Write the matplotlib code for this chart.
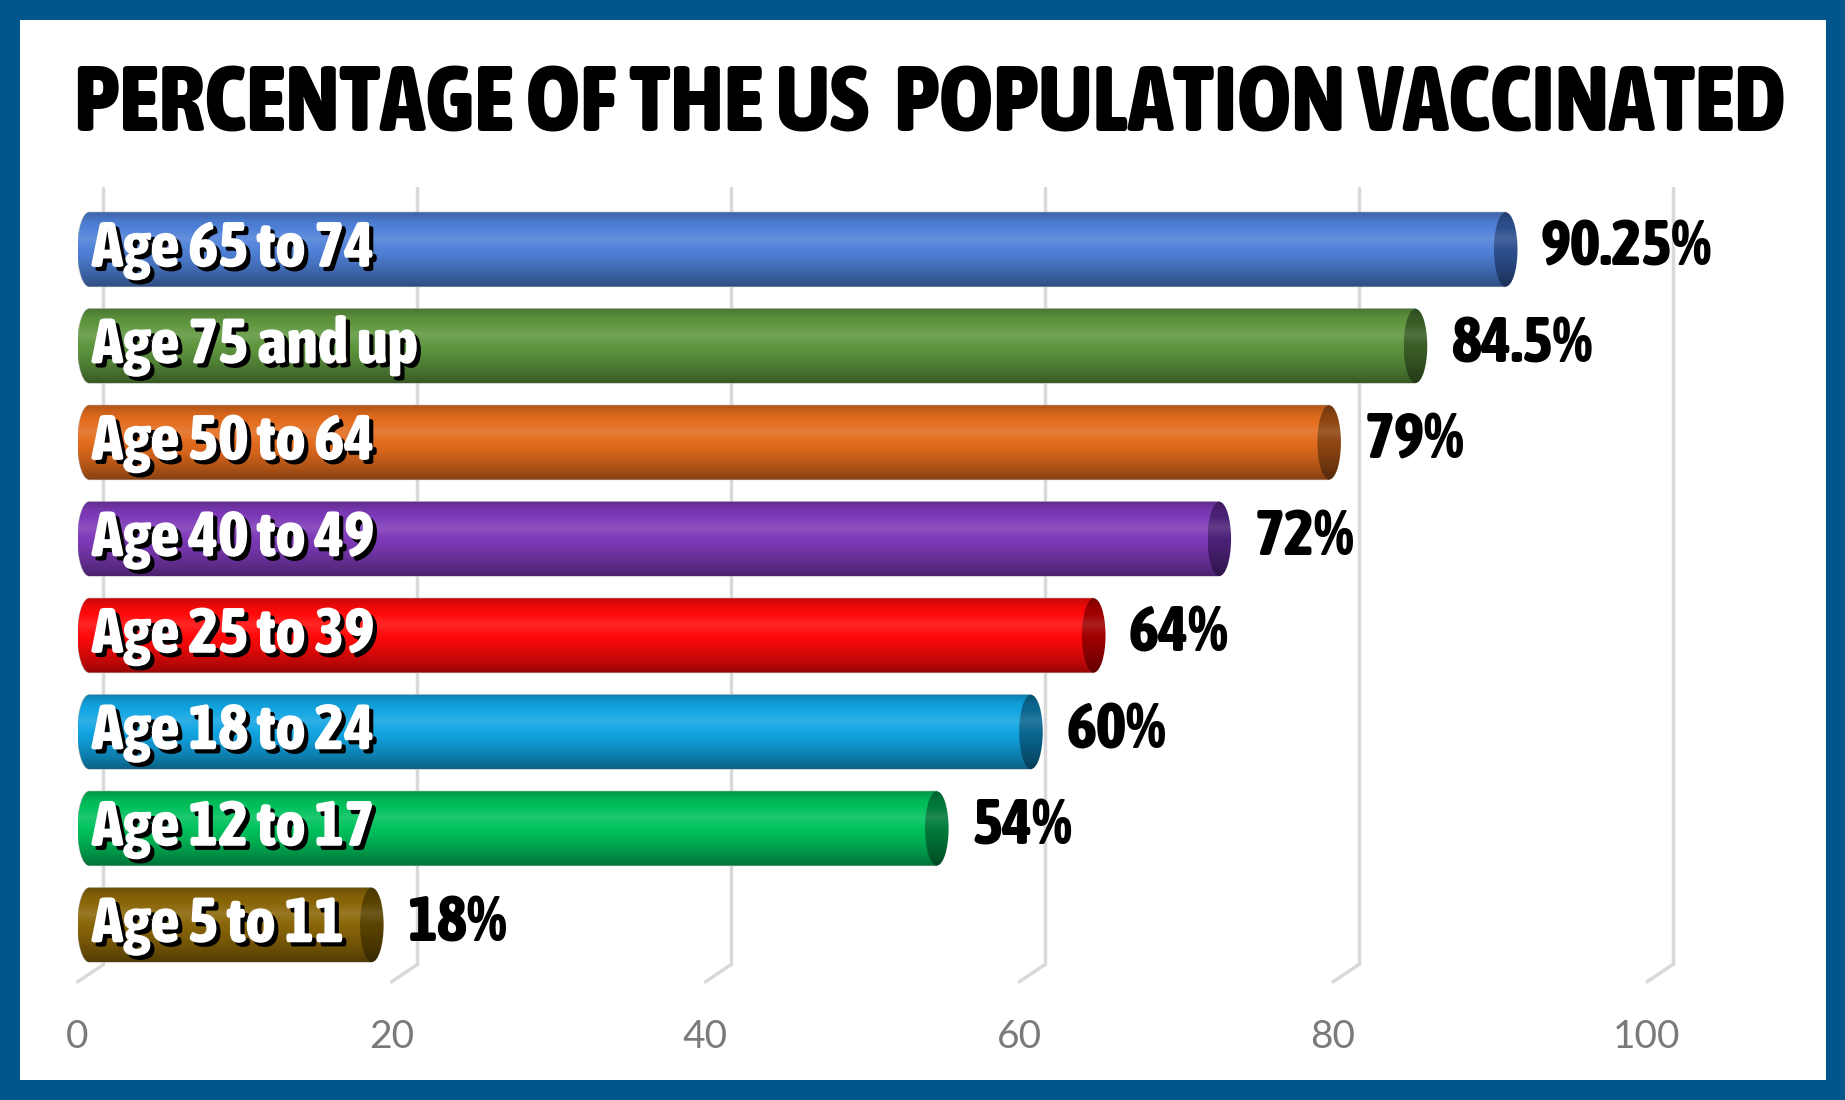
import os
import matplotlib
matplotlib.use('Agg')
import matplotlib.pyplot as plt
import matplotlib.patheffects as pe
from matplotlib import font_manager as fm
from matplotlib.patches import Polygon, Ellipse, Rectangle
import numpy as np

# data
groups = ['Age 65 to 74', 'Age 75 and up', 'Age 50 to 64', 'Age 40 to 49',
          'Age 25 to 39', 'Age 18 to 24', 'Age 12 to 17', 'Age 5 to 11']
values = [90.25, 84.5, 79, 72, 64, 60, 54, 18]
value_labels = ['90.25%', '84.5%', '79%', '72%', '64%', '60%', '54%', '18%']
bar_colors = ['#4F81D8', '#5F973F', '#E36C1D', '#7E3AB8',
              '#FF0A0A', '#12A5E2', '#00C15C', '#8A6608']
cap_colors = ['#2E4F8E', '#3A5E26', '#8E4512', '#4C2278',
              '#A00000', '#0A6790', '#007A3A', '#5A4300']
ticks = [0, 20, 40, 60, 80, 100]
tick_labels = ['0', '20', '40', '60', '80', '100']
title = 'PERCENTAGE OF THE US  POPULATION VACCINATED'


# look for a heavy condensed face, the original uses one
def pick_condensed():
    best, best_score = None, None
    for f in fm.fontManager.ttflist:
        fn = os.path.basename(f.fname).lower()
        if 'italic' in fn or 'oblique' in fn:
            continue
        if not ('condensed' in fn or 'narrow' in fn):
            continue
        w = f.weight if isinstance(f.weight, int) else 700
        score = abs(w - 800) / 100
        if 'semicondensed' in fn:
            score += 3
        elif 'extracondensed' in fn:
            score += 1
        if best_score is None or score < best_score:
            best, best_score = f, score
    if best is None:
        return fm.FontProperties(family='DejaVu Sans', weight='bold')
    return fm.FontProperties(fname=best.fname)


cond_fp = pick_condensed()
names = {f.name for f in fm.fontManager.ttflist}
tick_font = 'Lato' if 'Lato' in names else 'DejaVu Sans'


def shade(color, n=60):
    rgb = np.array(matplotlib.colors.to_rgb(color))
    t = np.linspace(0, 1, n)
    b = np.interp(t, [0, 0.12, 0.35, 0.6, 0.85, 1], [0.78, 0.95, 1.08, 0.95, 0.75, 0.6])
    out = []
    for k in b:
        if k >= 1:
            out.append(rgb + (1 - rgb) * (k - 1) * 1.5)
        else:
            out.append(rgb * k)
    return np.clip(np.array(out), 0, 1).reshape(n, 1, 3)


fig = plt.figure(figsize=(18.45, 11), dpi=100, facecolor='#01578B')
fig.add_artist(Rectangle((20 / 1845, 20 / 1100), 1806 / 1845, 1060 / 1100,
                         transform=fig.transFigure, facecolor='white',
                         edgecolor='none', zorder=-1))
renderer = fig.canvas.get_renderer()


def fit_size(text, target_px, base=40):
    t = fig.text(0, 0, text, fontproperties=cond_fp, fontsize=base)
    w = t.get_window_extent(renderer).width
    t.remove()
    return base * target_px / w


title_size = fit_size(title, 1713)
label_size = min(fit_size('Age 65 to 74', 293), 46)
value_size = min(fit_size('90.25%', 178), 46)

ax = fig.add_axes([0.04206, 0.10655, 0.8506, 0.72373])
ax.set_facecolor('none')

# 3d-ish grid
off_x, y_top, y_floor, y_front = 1.65, -0.636, 7.41, 7.59
for t in ticks:
    ax.plot([t + off_x, t + off_x], [y_top, y_floor], color='#D9D9D9', lw=2.5,
            zorder=1, clip_on=False, solid_capstyle='round')
    ax.plot([t + off_x, t], [y_floor, y_front], color='#D9D9D9', lw=2.5,
            zorder=1, clip_on=False, solid_capstyle='round')

h = 0.77
dx = 0.75
th = np.linspace(np.pi / 2, 3 * np.pi / 2, 40)
for i, (v, c, cc) in enumerate(zip(values, bar_colors, cap_colors)):
    xs = np.concatenate([dx + dx * np.cos(th), [v + dx, v + dx]])
    ys = np.concatenate([i - h / 2 * np.sin(th), [i + h / 2, i - h / 2]])
    body = Polygon(np.column_stack([xs, ys]), closed=True, facecolor='none',
                   edgecolor='#BBBBBB', lw=0.8, zorder=3)
    ax.add_patch(body)
    im = ax.imshow(shade(c), extent=(0, v + dx, i + h / 2, i - h / 2),
                   aspect='auto', interpolation='bilinear', zorder=3)
    im.set_clip_path(body)

    cap = Ellipse((v + dx, i), 2 * dx, h, facecolor='none', edgecolor='none', zorder=4)
    ax.add_patch(cap)
    im2 = ax.imshow(shade(cc), extent=(v, v + 2 * dx, i + h / 2, i - h / 2),
                    aspect='auto', interpolation='bilinear', zorder=4)
    im2.set_clip_path(cap)

    ax.text(0.9, i + 0.18, groups[i], ha='left', va='baseline', color='white',
            fontproperties=cond_fp, fontsize=label_size, zorder=6,
            path_effects=[pe.withSimplePatchShadow(offset=(3, -3), shadow_rgbFace='black', alpha=1)])
    ax.text(v + 3.0, i + 0.17, value_labels[i], ha='left', va='baseline', color='black',
            fontproperties=cond_fp, fontsize=value_size, zorder=6)

ax.set_xlim(0, 100)
ax.set_ylim(7.6, -0.65)
ax.set_xticks(ticks)
ax.set_xticklabels(tick_labels, family=tick_font)
ax.tick_params(axis='x', length=0, pad=26, labelsize=28, labelcolor='#7A7A7A')
ax.set_yticks([])
for s in ax.spines.values():
    s.set_visible(False)

fig.text(0.5038, 0.880, title, ha='center', va='baseline',
         fontproperties=cond_fp, fontsize=title_size, color='black')

fig.savefig('out.png', dpi=100, facecolor=fig.get_facecolor())
